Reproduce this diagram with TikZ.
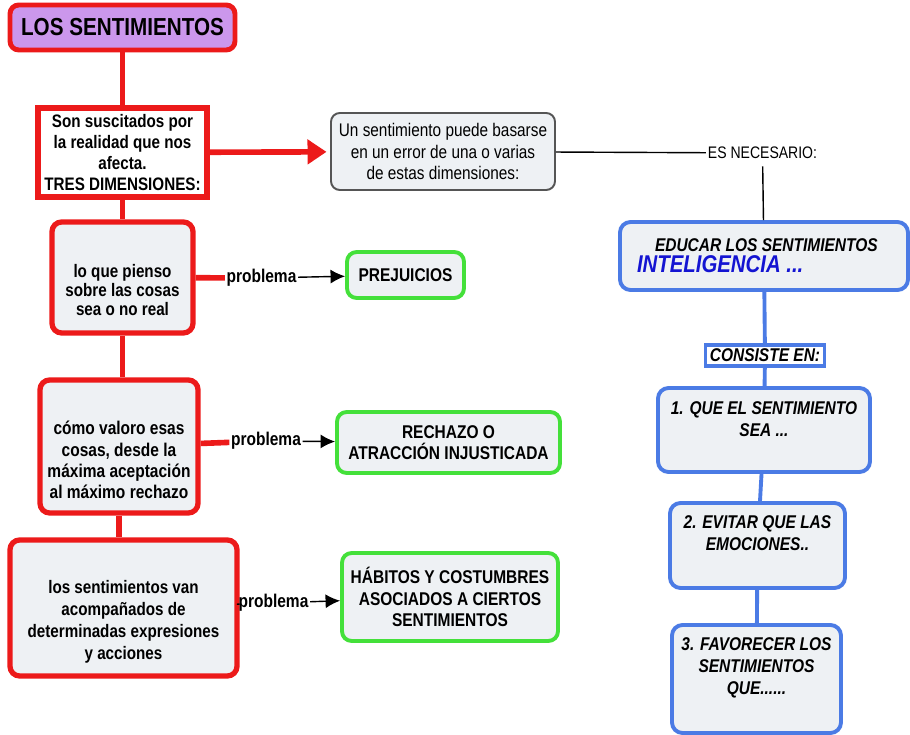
\documentclass[tikz,border=0pt]{standalone}
\usepackage{fontspec}
\setmainfont{Liberation Sans}[FakeStretch=0.84]
\usepackage{tikz}
\usetikzlibrary{positioning,arrows.meta,calc}
\definecolor{redline}{HTML}{EC1A1A}
\definecolor{greenline}{HTML}{44E03A}
\definecolor{blueline}{HTML}{4B7BE5}
\definecolor{boxfill}{HTML}{EEF1F4}
\definecolor{titlefill}{HTML}{CB97EC}
\definecolor{inteblue}{HTML}{1414D2}
\definecolor{grayline}{HTML}{555555}
\newcommand{\boxtext}{\fontsize{10.5}{12}\selectfont\bfseries}
\newcommand{\topgap}{\mbox{}\\[11pt]}

\begin{document}
\begin{tikzpicture}[
  redbox/.style={draw=redline, line width=3pt, rounded corners=5.5pt, fill=boxfill, align=center, font=\boxtext, inner sep=1pt},
  greenbox/.style={draw=greenline, line width=2.2pt, rounded corners=5.5pt, fill=boxfill, align=center, font=\boxtext},
  bluebox/.style={draw=blueline, line width=2.2pt, rounded corners=6pt, fill=boxfill, align=center, font=\fontsize{10.5}{12.5}\selectfont\bfseries\itshape},
  redlink/.style={draw=redline, line width=3.2pt},
  bluelink/.style={draw=blueline, line width=2.2pt},
  thinlink/.style={draw=black, line width=0.8pt},
  problink/.style={draw=black, line width=0.8pt, -{Latex[length=2.9mm,width=2.8mm]}},
  problabel/.style={font=\boxtext, inner sep=0.8pt}
]
  \useasboundingbox (0,0) rectangle (18.2,-14.7);

  \node[redbox, fill=titlefill, line width=2.8pt, rounded corners=5pt, minimum width=4.5cm, minimum height=0.9cm,
    font=\fontsize{14}{16}\selectfont\bfseries] (title) at (2.45,-0.55) {LOS SENTIMIENTOS};
  \node[redbox, sharp corners, fill=white, minimum width=3.38cm, minimum height=1.78cm,
    font=\fontsize{10.3}{12}\selectfont\bfseries] (susc) at (2.45,-3.05)
    {Son suscitados por\\la realidad que nos\\afecta.\\TRES DIMENSIONES:};
  \node[draw=grayline, line width=1.1pt, rounded corners=5pt, fill=boxfill, align=center, minimum width=4.48cm,
    minimum height=1.54cm, font=\fontsize{10.4}{12}\selectfont] (unsent) at (8.86,-3.03)
    {Un sentimiento puede basarse\\en un error de una o varias\\de estas dimensiones:};
  \node[font=\fontsize{9.5}{11}\selectfont, inner sep=1pt] (esnec) at (15.25,-3.06) {ES NECESARIO:};

  \node[redbox, minimum width=2.82cm, minimum height=2.22cm, font=\fontsize{10.3}{10.8}\selectfont\bfseries]
    (pienso) at (2.45,-5.55) {\topgap lo que pienso\\sobre las cosas\\sea o no real};
  \node[redbox, minimum width=3.16cm, minimum height=2.66cm, font=\fontsize{10.5}{12}\selectfont\bfseries]
    (valoro) at (2.38,-8.93) {\topgap c\'omo valoro esas\\cosas, desde la\\m\'axima aceptaci\'on\\al m\'aximo rechazo};
  \node[redbox, minimum width=4.54cm, minimum height=2.72cm, font=\fontsize{10.3}{12.5}\selectfont\bfseries]
    (acomp) at (2.47,-12.16) {\topgap los sentimientos van\\acompa\~nados de\\determinadas expresiones\\y acciones};

  \node[greenbox, minimum width=2.34cm, minimum height=0.92cm] (prej) at (8.11,-5.5) {PREJUICIOS};
  \node[greenbox, minimum width=4.46cm, minimum height=1.22cm] (rech) at (8.97,-8.85)
    {RECHAZO O\\ATRACCI\'ON INJUSTICADA};
  \node[greenbox, minimum width=4.32cm, minimum height=1.76cm] (habit) at (9.0,-11.94)
    {H\'ABITOS Y COSTUMBRES\\ASOCIADOS A CIERTOS\\SENTIMIENTOS};

  \node[problabel] (prob1) at (5.23,-5.56) {problema};
  \node[problabel] (prob2) at (5.32,-8.82) {problema};
  \node[problabel] (prob3) at (5.47,-12.06) {problema};

  \node[bluebox, line width=2.2pt, text width=5.08cm, inner xsep=0.34cm, align=flush left, minimum height=1.36cm,
    font=\fontsize{10.5}{12}\selectfont\bfseries\itshape] (educar) at (15.28,-5.12)
    {\hspace*{0.36cm}EDUCAR LOS SENTIMIENTOS\\{\fontsize{13.8}{14}\selectfont\color{inteblue}INTELIGENCIA ...}};
  \node[draw=blueline, line width=2pt, fill=white, font=\boxtext\itshape, minimum width=2.38cm,
    minimum height=0.42cm, inner sep=1pt] (consiste) at (15.3,-7.11) {CONSISTE EN:};
  \node[bluebox, minimum width=4.24cm, minimum height=1.68cm] (q1) at (15.28,-8.6)
    {1. QUE EL SENTIMIENTO\\SEA ...\\\mbox{}};
  \node[bluebox, minimum width=3.5cm, minimum height=1.7cm] (q2) at (15.15,-10.91)
    {2. EVITAR QUE LAS\\EMOCIONES..\\[2pt]\mbox{}};
  \node[bluebox, minimum width=3.38cm, minimum height=2.16cm] (q3) at (15.13,-13.58)
    {3. FAVORECER LOS\\SENTIMIENTOS\\QUE......\\[2pt]\mbox{}};

  \draw[redlink] (title) -- (susc);
  \draw[redlink] (susc) -- (pienso);
  \draw[redlink] (pienso) -- (pienso |- valoro.north);
  \draw[redlink] (valoro) -- (valoro |- acomp.north);
  \draw[redlink, -{Triangle[length=0.38cm,width=0.48cm]}, shorten >=2pt] (susc) -- (unsent);

  \draw[redlink] (pienso) -- (prob1);
  \draw[redlink] (valoro) -- (prob2);
  \draw[thinlink] (acomp) -- (prob3);
  \draw[problink] (prob1) -- (prej);
  \draw[problink] (prob2) -- (rech);
  \draw[problink] (prob3) -- (habit);

  \draw[thinlink] (unsent) -- (esnec);
  \draw[thinlink, shorten <=3pt] (esnec) -- (educar);
  \draw[bluelink] (educar) -- (consiste);
  \draw[bluelink] (consiste) -- (q1);
  \draw[bluelink] (q1) -- (q2);
  \draw[bluelink] (q2) -- (q3);
\end{tikzpicture}
\end{document}
